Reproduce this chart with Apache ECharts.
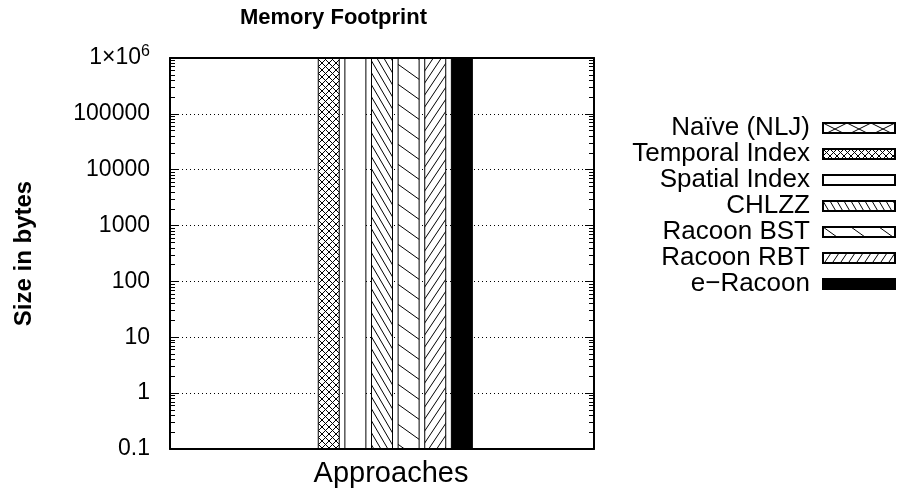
<!DOCTYPE html>
<html>
<head>
<meta charset="utf-8">
<script src="https://cdn.jsdelivr.net/npm/echarts@6/dist/echarts.min.js"></script>
<style>
  html, body { margin: 0; padding: 0; background: #fff; }
  #chart { width: 899px; height: 494px; }
</style>
</head>
<body>
<div id="chart"></div>
<script>
// categories / series / values
var categories = ['Approaches'];
var seriesNames = ['Naïve (NLJ)', 'Temporal Index', 'Spatial Index', 'CHLZZ', 'Racoon BST', 'Racoon RBT', 'e\u2212Racoon'];
// all bars run off the top of the plot (above 1e6); Naive has no bar
var sizes = [null, 4.2e7, 3.5e7, 5.0e7, 2.8e7, 3.0e7, 1.9e7];
var minorTicks = [];
for (var e = -1; e < 6; e++) {
	for (var m = 2; m <= 9; m++) minorTicks.push(Number((m * Math.pow(10, e)).toPrecision(3)));
}

// fill patterns, gnuplot style
function pattern(w, h, draw) {
	var c = document.createElement('canvas');
	c.width = w; c.height = h;
	var ctx = c.getContext('2d');
	ctx.fillStyle = '#fff';
	ctx.fillRect(0, 0, w, h);
	ctx.strokeStyle = '#000';
	ctx.lineWidth = 1;
	ctx.beginPath();
	draw(ctx, w, h);
	ctx.stroke();
	return { image: c, repeat: 'repeat' };
}
function back(ctx, w, h) {   // "\"
	for (var k = -1; k <= 1; k++) { ctx.moveTo(k * w, 0); ctx.lineTo(k * w + w, h); }
}
function fwd(ctx, w, h) {    // "/"
	for (var k = -1; k <= 1; k++) { ctx.moveTo(k * w, h); ctx.lineTo(k * w + w, 0); }
}
function cross(ctx, w, h) { back(ctx, w, h); fwd(ctx, w, h); }

var fills = [
	pattern(24, 12, cross),
	pattern(7, 7, cross),
	'#fff',
	pattern(7, 12, back),
	pattern(28, 20, back),
	pattern(8, 12, fwd),
	'#000'
];

var font = 'Liberation Sans, Arial, Helvetica, sans-serif';
var myChart = echarts.init(document.getElementById('chart'));

var series = [];
for (var i = 0; i < seriesNames.length; i++) {
	series.push({
		name: seriesNames[i],
		type: 'bar',
		barWidth: 22,
		barGap: '21%',
		itemStyle: { color: fills[i], borderColor: '#000', borderWidth: 1 },
		emphasis: { disabled: true },
		data: [sizes[i]]
	});
}

function fmt(v) {
	if (v >= 1e6) return '{a|1\u00d710}{s|6}';
	return String(Number(v.toPrecision(6)));
}

var tickAxis = function(pos, len, minor) {
	return {
		type: 'log', logBase: 10, min: 0.1, max: 1e6, splitNumber: 7,
		position: pos, z: 10,
		axisLine: { show: !minor, lineStyle: { color: '#000', width: 2 } },
		axisTick: minor
			? { show: true, inside: true, length: len, customValues: minorTicks, lineStyle: { color: '#000', width: 1 } }
			: { show: true, inside: true, length: len, lineStyle: { color: '#000', width: 1 } },
		axisLabel: { show: false },
		splitLine: { show: false }
	};
};

var option = {
	animation: false,
	title: {
		text: 'Memory Footprint',
		left: 240, top: 7, padding: 0,
		textStyle: { fontFamily: font, fontSize: 22, fontWeight: 'bold', color: '#000' }
	},
	legend: {
		data: seriesNames,
		orient: 'vertical',
		right: 3, top: 115, padding: 0,
		align: 'right',
		icon: 'rect',
		itemWidth: 72, itemHeight: 10, itemGap: 0,
		selectedMode: false,
		textStyle: { fontFamily: font, fontSize: 26, lineHeight: 23, color: '#000', padding: [0, 8, 0, 0] }
	},
	grid: { left: 170, right: 305, top: 58, bottom: 45, outerBoundsMode: 'none' },
	xAxis: [
		{
			type: 'category', data: categories, position: 'bottom', z: 10,
			axisLine: { lineStyle: { color: '#000', width: 2 } },
			axisTick: { show: false },
			axisLabel: { fontFamily: font, fontSize: 29, color: '#000', margin: 10, padding: [0, 0, 0, 18] }
		},
		{
			type: 'category', data: categories, position: 'top', z: 10,
			axisLine: { lineStyle: { color: '#000', width: 2 } },
			axisTick: { show: false },
			axisLabel: { show: false }
		}
	],
	yAxis: [
		{
			type: 'log', logBase: 10, min: 0.1, max: 1e6, splitNumber: 7, startValue: 0.1,
			position: 'left',
			name: 'Size in bytes', nameLocation: 'middle', nameRotate: 90, nameGap: 134,
			nameTextStyle: { fontFamily: font, fontSize: 24, fontWeight: 'bold', color: '#000' },
			axisLine: { show: false },
			axisTick: { show: false },
			axisLabel: {
				fontFamily: font, fontSize: 23, color: '#000', margin: 20,
				formatter: fmt,
				rich: {
					a: { fontFamily: font, fontSize: 23, color: '#000' },
					s: { fontFamily: font, fontSize: 16, color: '#000', verticalAlign: 'top', padding: [0, 0, 12, 0] }
				}
			},
			splitLine: { show: true, lineStyle: { color: '#000', width: 1, type: [1, 3] } }
		},
		tickAxis('left', 9, false),
		tickAxis('right', 9, false),
		tickAxis('left', 5, true),
		tickAxis('right', 5, true)
	],
	series: series
};
myChart.setOption(option);
</script>
</body>
</html>
